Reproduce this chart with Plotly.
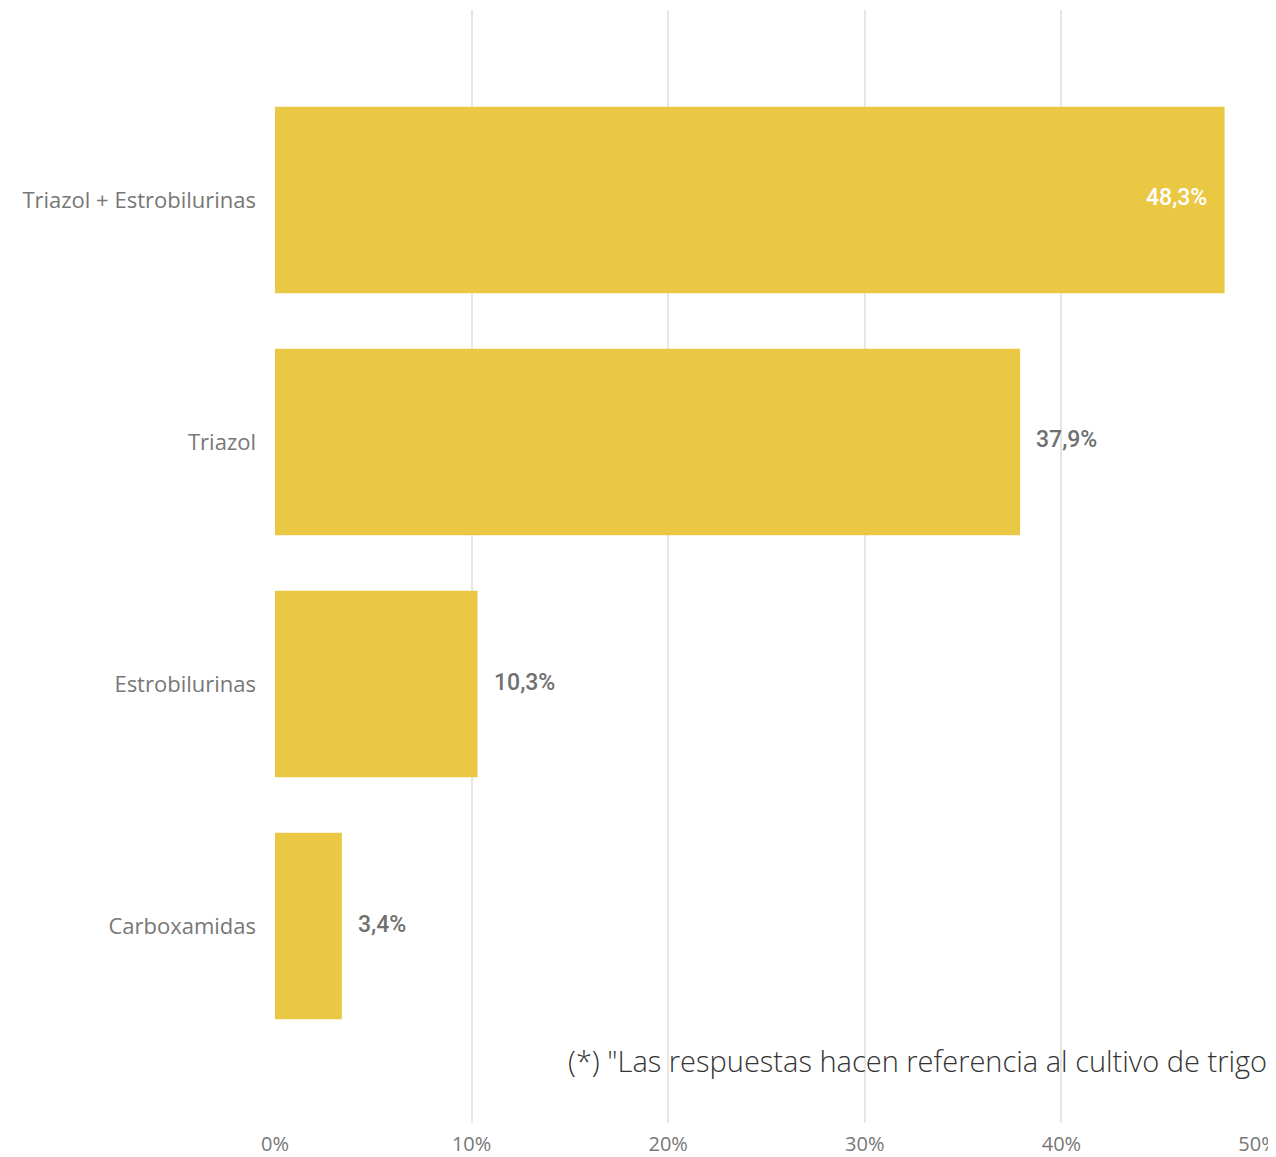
import plotly.graph_objects as go

# Fungicide groups used (share of responses)
categories = ["Triazol + Estrobilurinas", "Triazol", "Estrobilurinas", "Carboxamidas"]
shares = [48.3, 37.9, 10.3, 3.4]
tick_values = [0, 10, 20, 30, 40, 50]
tick_labels = ["0%", "10%", "20%", "30%", "40%", "50%"]
note_text = '(*) "Las respuestas hacen referencia al cultivo de trigo'

BAR_COLOR = "#EBC844"
GRID_COLOR = "#E6E6E6"
TICK_COLOR = "#777777"

# page body adds an 8px offset, so margins are shifted to compensate
ML, MR, MT, MB = 267, 26, 2, 42
W, H = 1276, 1157

fig = go.Figure(
    go.Bar(
        x=shares,
        y=categories,
        orientation="h",
        marker=dict(color=BAR_COLOR, line=dict(width=0)),
        width=0.77,
        hoverinfo="skip",
    )
)

# value labels: the longest one sits inside the bar, the rest outside
max_share = max(shares)
for cat, val in zip(categories, shares):
    label = f"{val:.1f}%".replace(".", ",")
    inside = val == max_share
    fig.add_annotation(
        x=val,
        y=cat,
        text=label,
        showarrow=False,
        xanchor="right" if inside else "left",
        xshift=-16 if inside else 14,
        yshift=2,
        font=dict(family="Roboto", size=23, weight=500,
                  color="#FFFFFF" if inside else "#707070"),
    )

# footnote, positioned in pixels relative to the plot area
plot_w = W - ML - MR
plot_h = H - MT - MB
fig.add_annotation(
    x=(558 - ML) / plot_w,
    xref="x domain",
    y=1 - (1052 - MT) / plot_h,
    yref="y domain",
    text=note_text,
    showarrow=False,
    xanchor="left",
    yanchor="middle",
    font=dict(family="Open Sans", size=29, weight=300, color="#333333"),
)

fig.update_layout(
    width=W,
    height=H,
    margin=dict(l=ML, r=MR, t=MT, b=MB),
    plot_bgcolor="white",
    paper_bgcolor="white",
    showlegend=False,
    font=dict(family="Open Sans", color=TICK_COLOR),
    xaxis=dict(
        range=[0, 50],
        tickvals=tick_values,
        ticktext=tick_labels,
        showgrid=True,
        gridcolor=GRID_COLOR,
        gridwidth=2,
        zeroline=False,
        showline=False,
        ticks="",
        ticklabelstandoff=7,
        tickfont=dict(size=20, color=TICK_COLOR),
    ),
    yaxis=dict(
        range=[3.814, -0.785],
        showgrid=False,
        zeroline=False,
        showline=False,
        ticks="",
        ticklabelstandoff=18,
        tickfont=dict(size=22, color="#777777"),
    ),
)

fig.write_html("out.html")
